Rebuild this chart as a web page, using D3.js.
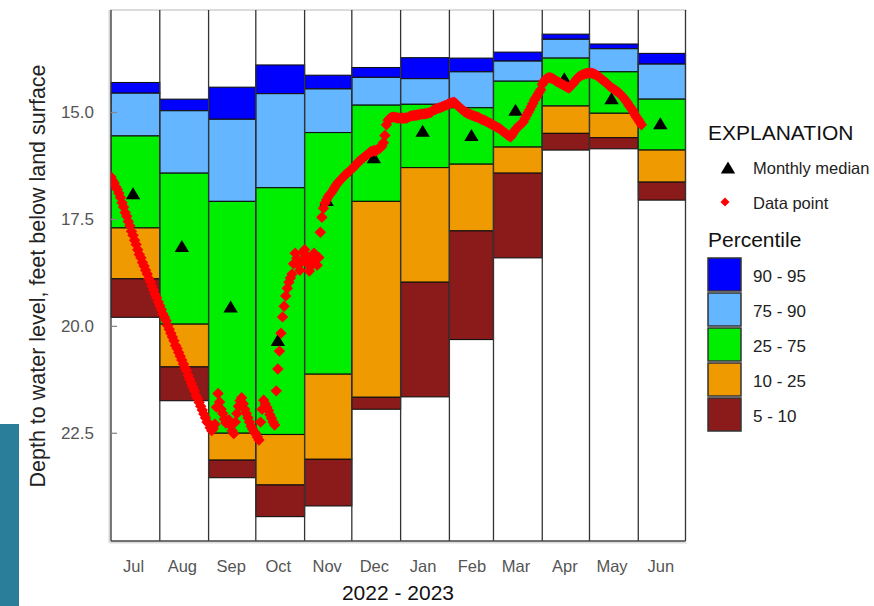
<!DOCTYPE html>
<html>
<head>
<meta charset="utf-8">
<script src="https://cdn.jsdelivr.net/npm/d3@7"></script>
<style>
  html, body { margin: 0; padding: 0; background: #fff; }
  svg { display: block; font-family: "Liberation Sans", Arial, sans-serif; }
</style>
</head>
<body>
<svg id="chart" width="874" height="606"></svg>
<script>
// ---------------- DATA ----------------
const monthLabels = ["Jul","Aug","Sep","Oct","Nov","Dec","Jan","Feb","Mar","Apr","May","Jun"];
const yTicks = [15.0, 17.5, 20.0, 22.5];

// Percentile depths (feet below land surface) per month, Jul 2022 - Jun 2023
const p95 = [14.31, 14.70, 14.42, 13.90, 14.14, 13.96, 13.73, 13.74, 13.60, 13.18, 13.41, 13.63];
const p90 = [14.56, 14.97, 15.17, 14.57, 14.46, 14.19, 14.22, 14.06, 13.81, 13.30, 13.52, 13.88];
const p75 = [15.56, 16.43, 17.09, 16.77, 15.48, 14.84, 14.82, 14.90, 14.28, 13.74, 14.06, 14.70];
const p25 = [17.71, 19.96, 22.51, 22.54, 21.13, 17.09, 16.30, 16.22, 15.82, 14.86, 15.03, 15.89];
const p10 = [18.90, 20.96, 23.14, 23.72, 23.12, 21.67, 18.98, 17.78, 16.43, 15.50, 15.60, 16.64];
const p05 = [19.80, 21.75, 23.55, 24.46, 24.21, 21.95, 21.66, 20.32, 18.41, 15.89, 15.86, 17.06];

// Monthly median depth
const medians = [16.90, 18.13, 19.55, 20.33, 17.06, 16.06, 15.44, 15.54, 14.95, 14.21, 14.68, 15.26];

// Daily data points starting 2022-07-01
const dataStart = "2022-07-01";
const dailyDepth = [
  // Jul
  16.52,16.60,16.66,16.75,16.81,16.90,17.00,17.12,17.22,17.35,17.44,17.56,17.66,17.79,17.88,18.00,
  18.10,18.22,18.33,18.41,18.52,18.60,18.70,18.79,18.89,18.97,19.07,19.16,19.26,19.34,19.44,
  // Aug
  19.53,19.62,19.72,19.80,19.88,19.99,20.08,20.17,20.26,20.35,20.46,20.53,20.62,20.71,20.80,20.89,
  20.98,21.05,21.16,21.25,21.34,21.43,21.52,21.63,21.70,21.79,21.88,21.97,22.06,22.15,22.25,
  // Sep
  22.28,22.38,22.45,22.40,22.30,21.90,21.58,21.78,21.95,22.05,22.18,22.27,22.22,22.20,22.33,
  22.45,22.52,22.25,22.05,21.88,21.75,21.68,21.82,21.95,22.05,22.15,22.25,22.35,22.42,22.48,
  // Oct
  22.52,22.60,22.67,22.25,21.95,21.74,21.82,21.90,21.98,22.08,22.16,22.25,22.32,21.52,21.01,20.59,
  20.17,19.79,19.54,19.30,19.12,18.98,18.88,18.79,18.55,18.30,18.42,18.58,18.70,18.50,18.28,
  // Nov
  18.22,18.36,18.55,18.72,18.60,18.45,18.30,18.42,18.58,18.40,17.81,17.46,17.25,17.13,17.05,
  16.98,16.93,16.89,16.83,16.77,16.71,16.66,16.62,16.58,16.54,16.50,16.46,16.43,16.40,16.37,
  // Dec
  16.33,16.30,16.26,16.22,16.17,16.14,16.11,16.08,16.05,16.02,15.99,15.96,15.93,15.92,15.90,15.91,
  15.89,15.86,15.84,15.80,15.72,15.55,15.30,15.19,15.15,15.13,15.12,15.12,15.13,15.14,15.14,
  // Jan
  15.15,15.14,15.15,15.14,15.14,15.12,15.10,15.09,15.08,15.08,15.07,15.07,15.06,15.05,15.05,15.04,
  15.04,15.03,15.02,15.01,14.98,14.95,14.94,14.92,14.91,14.90,14.88,14.87,14.85,14.84,14.82,
  // Feb
  14.80,14.79,14.78,14.77,14.80,14.84,14.88,14.91,14.94,14.97,15.00,15.02,15.04,15.05,
  15.07,15.08,15.10,15.11,15.12,15.14,15.16,15.18,15.19,15.21,15.23,15.25,15.27,15.29,
  // Mar
  15.31,15.33,15.35,15.37,15.39,15.42,15.45,15.48,15.51,15.54,15.56,15.58,15.52,15.46,15.41,15.37,
  15.33,15.30,15.27,15.23,15.15,15.08,15.01,14.95,14.87,14.80,14.72,14.66,14.60,14.54,14.48,
  // Apr
  14.35,14.28,14.24,14.21,14.20,14.20,14.21,14.23,14.25,14.28,14.30,14.32,14.34,14.36,14.38,
  14.40,14.42,14.44,14.40,14.36,14.32,14.27,14.22,14.18,14.16,14.14,14.12,14.11,14.10,14.09,
  // May
  14.09,14.09,14.10,14.11,14.13,14.15,14.18,14.21,14.24,14.27,14.30,14.33,14.37,14.40,14.43,14.46,
  14.48,14.51,14.53,14.56,14.60,14.64,14.68,14.73,14.78,14.84,14.89,14.94,15.00,15.07,15.13,
  // Jun
  15.18,15.24,15.30
];

const bandLabels = ["90 - 95", "75 - 90", "25 - 75", "10 - 25", "5 - 10"];
const bandColors = ["#0000ff", "#63b6ff", "#00ee00", "#ee9a00", "#8b1a1a"];

// ---------------- CHART ----------------
const svg = d3.select("#chart");
const W = 874, H = 606;
const plot = { left: 111, right: 685.5, top: 10, bottom: 541 };

svg.append("rect").attr("width", W).attr("height", H).attr("fill", "#fff");
// decorative teal strip visible at left edge of the screenshot
svg.append("rect").attr("x", 0).attr("y", 424).attr("width", 19).attr("height", 182).attr("fill", "#2a7e99");

const parse = d3.timeParse("%Y-%m-%d");
const t0 = parse(dataStart);
const tEnd = d3.timeYear.offset(t0, 1);
const monthStarts = d3.timeMonth.range(t0, tEnd);

const x = d3.scaleTime().domain([t0, tEnd]).range([plot.left, plot.right]);
const y = d3.scaleLinear().domain([12.615, 25.03]).range([plot.top, plot.bottom]);

const g = svg.append("g");

// month columns (white background)
const cols = monthStarts.map((d, i) => ({
  i, start: d, end: d3.timeMonth.offset(d, 1), mid: d3.timeDay.offset(d, 14)
}));

g.selectAll("rect.col").data(cols).join("rect")
  .attr("class", "col")
  .attr("x", d => x(d.start)).attr("width", d => x(d.end) - x(d.start))
  .attr("y", plot.top).attr("height", plot.bottom - plot.top)
  .attr("fill", "#fff");

// percentile bands
const bounds = [p95, p90, p75, p25, p10, p05];
const bands = [];
cols.forEach(c => {
  for (let b = 0; b < 5; b++) {
    bands.push({ c, b, top: bounds[b][c.i], bot: bounds[b + 1][c.i] });
  }
});
g.selectAll("rect.band").data(bands).join("rect")
  .attr("class", "band")
  .attr("x", d => x(d.c.start)).attr("width", d => x(d.c.end) - x(d.c.start))
  .attr("y", d => y(d.top)).attr("height", d => y(d.bot) - y(d.top))
  .attr("fill", d => bandColors[d.b])
  .attr("stroke", "#111").attr("stroke-width", 1.1);

// frame
svg.append("line").attr("x1", plot.left - 1).attr("x2", plot.right + 1)
  .attr("y1", plot.top).attr("y2", plot.top).attr("stroke", "#d0d0d0").attr("stroke-width", 1.5);
svg.append("line").attr("x1", plot.left - 1.5).attr("x2", plot.left - 1.5)
  .attr("y1", plot.top).attr("y2", plot.bottom + 2).attr("stroke", "#d6d6d6").attr("stroke-width", 2);
svg.append("line").attr("x1", plot.left - 1).attr("x2", plot.right + 1)
  .attr("y1", plot.bottom + 1.5).attr("y2", plot.bottom + 1.5).attr("stroke", "#dcdcdc").attr("stroke-width", 2);
const edges = monthStarts.concat([tEnd]);
svg.selectAll("line.edge").data(edges).join("line")
  .attr("class", "edge")
  .attr("x1", d => x(d)).attr("x2", d => x(d))
  .attr("y1", plot.top).attr("y2", plot.bottom)
  .attr("stroke", "#333").attr("stroke-width", 1.3);
svg.append("line").attr("x1", plot.left).attr("x2", plot.right)
  .attr("y1", plot.bottom).attr("y2", plot.bottom).attr("stroke", "#444").attr("stroke-width", 1.3);

// y axis (ticks point into the plot)
const yAxis = d3.axisLeft(y).tickValues(yTicks).tickFormat(d3.format(".1f"))
  .tickSizeInner(-6).tickSizeOuter(0).tickPadding(17);
const ya = svg.append("g").attr("transform", `translate(${plot.left},0)`).call(yAxis);
ya.select(".domain").remove();
ya.selectAll(".tick line").attr("stroke", "#888").attr("stroke-width", 1.3);
ya.selectAll(".tick text").attr("fill", "#555").style("font-size", "17px")
  .style("font-family", "'Liberation Sans', Arial, sans-serif");

// x axis month labels
const xAxis = d3.axisBottom(x).tickValues(cols.map(c => c.mid))
  .tickFormat((d, i) => monthLabels[i]).tickSize(0).tickPadding(19);
const xa = svg.append("g").attr("transform", `translate(0,${plot.bottom})`).call(xAxis);
xa.select(".domain").remove();
xa.selectAll(".tick text").attr("fill", "#555").style("font-size", "16.5px")
  .style("font-family", "'Liberation Sans', Arial, sans-serif");

// medians
const triPath = "M0,-6.5L7.2,5.5L-7.2,5.5Z";
svg.selectAll("path.median").data(cols).join("path")
  .attr("class", "median")
  .attr("d", triPath)
  .attr("transform", d => `translate(${x(d.mid)},${y(medians[d.i]) + 0.5})`)
  .attr("fill", "#000");

// data points
svg.append("clipPath").attr("id", "plotclip").append("rect")
  .attr("x", plot.left).attr("y", plot.top)
  .attr("width", plot.right - plot.left).attr("height", plot.bottom - plot.top);
const pts = dailyDepth.map((v, i) => ({ date: d3.timeDay.offset(t0, i), v }));
const dia = "M0,-5.7L5.7,0L0,5.7L-5.7,0Z";
svg.append("g").attr("clip-path", "url(#plotclip)")
  .selectAll("path").data(pts).join("path")
  .attr("d", dia)
  .attr("transform", d => `translate(${x(d.date)},${y(d.v)})`)
  .attr("fill", "#ff0000");

// axis titles
svg.append("text").attr("x", 398).attr("y", 600).attr("text-anchor", "middle")
  .attr("fill", "#111").style("font-size", "21px").text("2022 - 2023");
svg.append("text").attr("transform", "translate(45,276) rotate(-90)").attr("text-anchor", "middle")
  .attr("fill", "#222").style("font-size", "21.5px")
  .text("Depth to water level, feet below land surface");

// legend
const lg = svg.append("g");
lg.append("text").attr("x", 708).attr("y", 140).attr("fill", "#111")
  .style("font-size", "21px").text("EXPLANATION");
lg.append("path").attr("d", triPath).attr("transform", "translate(728,168)").attr("fill", "#000");
lg.append("text").attr("x", 753).attr("y", 174).attr("fill", "#222")
  .style("font-size", "16.5px").text("Monthly median");
lg.append("path").attr("d", "M0,-4.5L4.5,0L0,4.5L-4.5,0Z").attr("transform", "translate(725,202)").attr("fill", "#ff0000");
lg.append("text").attr("x", 753).attr("y", 209).attr("fill", "#222")
  .style("font-size", "16.5px").text("Data point");
lg.append("text").attr("x", 708).attr("y", 247).attr("fill", "#111")
  .style("font-size", "21px").text("Percentile");
const items = lg.selectAll("g.item").data(bandLabels).join("g")
  .attr("class", "item")
  .attr("transform", (d, i) => `translate(708,${258 + i * 35})`);
items.append("rect").attr("width", 33).attr("height", 33)
  .attr("fill", (d, i) => bandColors[i]).attr("stroke", "#333").attr("stroke-width", 1.5);
items.append("text").attr("x", 45).attr("y", 23.5).attr("fill", "#222")
  .style("font-size", "17px").text(d => d);
</script>
</body>
</html>
